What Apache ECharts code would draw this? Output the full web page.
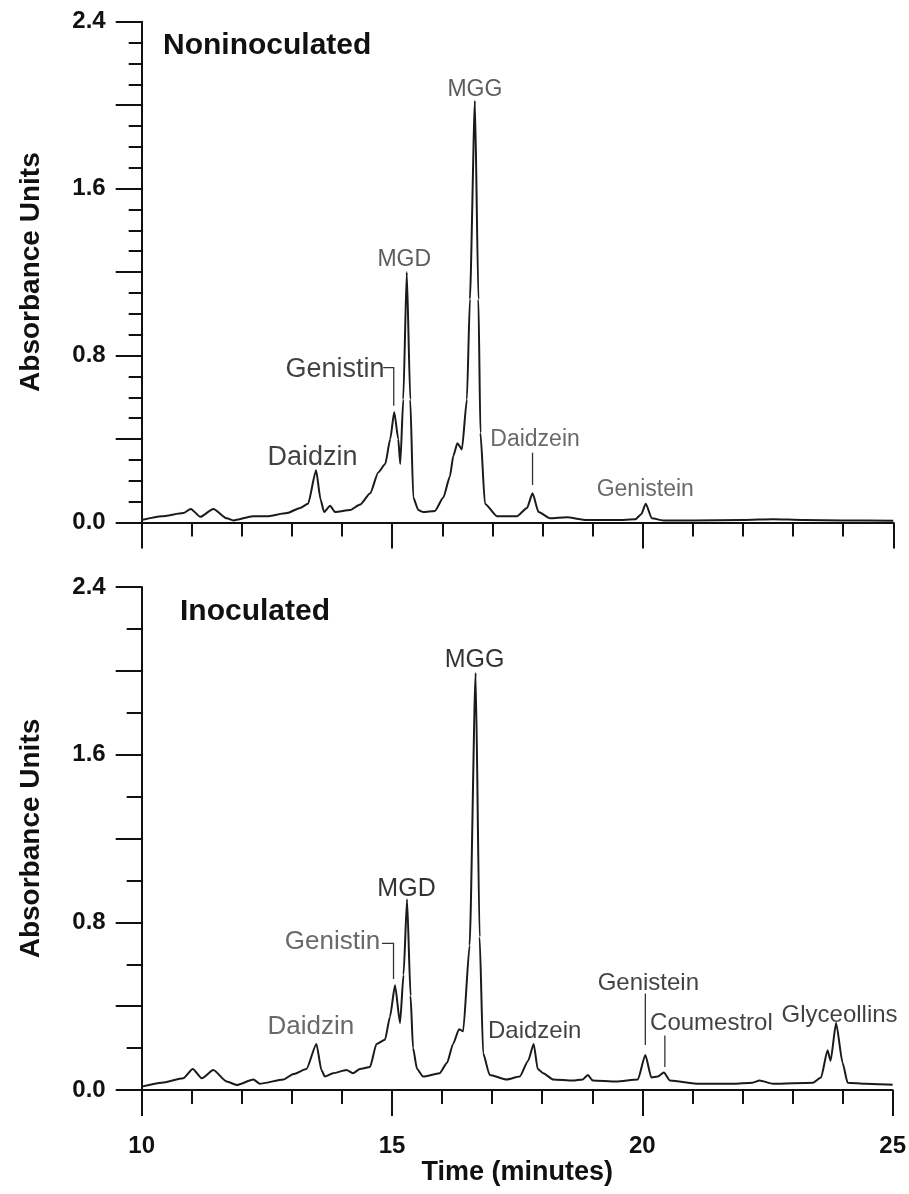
<!DOCTYPE html>
<html>
<head>
<meta charset="utf-8">
<script src="https://cdn.jsdelivr.net/npm/echarts@6/dist/echarts.min.js"></script>
<style>
  html, body { margin: 0; padding: 0; background: #fff; }
  #main { width: 909px; height: 1194px; }
</style>
</head>
<body>
<div id="main"></div>
<script>
// chromatogram values (time in minutes, absorbance units)
var nonTime = [10.0, 10.4, 10.83, 10.98, 11.17, 11.43, 11.7, 11.83, 12.22, 12.49, 12.9, 13.16, 13.32, 13.48, 13.57, 13.64, 13.76, 13.86, 14.16, 14.36, 14.56, 14.72, 14.86, 14.96, 15.04, 15.12, 15.16, 15.22, 15.29, 15.36, 15.42, 15.52, 15.62, 15.85, 16.02, 16.15, 16.22, 16.3, 16.39, 16.49, 16.55, 16.65, 16.72, 16.76, 16.85, 17.09, 17.49, 17.69, 17.8, 17.92, 18.15, 18.48, 18.88, 19.5, 19.85, 19.97, 20.06, 20.18, 20.41, 21.0, 22.0, 22.6, 23.2, 24.0, 25.0];
var nonAbs  = [0.012, 0.03, 0.045, 0.065, 0.027, 0.065, 0.02, 0.01, 0.03, 0.03, 0.045, 0.07, 0.09, 0.25, 0.11, 0.05, 0.08, 0.05, 0.06, 0.086, 0.14, 0.24, 0.28, 0.40, 0.53, 0.40, 0.28, 0.59, 1.20, 0.59, 0.12, 0.06, 0.05, 0.055, 0.12, 0.22, 0.32, 0.38, 0.35, 0.59, 1.07, 2.02, 1.07, 0.43, 0.09, 0.03, 0.03, 0.07, 0.14, 0.05, 0.02, 0.025, 0.012, 0.012, 0.015, 0.04, 0.09, 0.02, 0.01, 0.01, 0.012, 0.016, 0.012, 0.01, 0.008];

var inoTime = [10.0, 10.4, 10.83, 11.02, 11.2, 11.43, 11.7, 11.9, 12.23, 12.36, 12.83, 13.03, 13.29, 13.49, 13.59, 13.66, 13.82, 14.09, 14.22, 14.36, 14.56, 14.69, 14.86, 14.96, 15.06, 15.16, 15.23, 15.3, 15.37, 15.42, 15.5, 15.62, 15.95, 16.1, 16.22, 16.34, 16.42, 16.55, 16.67, 16.75, 16.82, 16.95, 17.29, 17.55, 17.72, 17.83, 17.91, 18.02, 18.22, 18.61, 18.81, 18.91, 19.01, 19.48, 19.91, 20.06, 20.18, 20.31, 20.43, 20.55, 21.14, 21.81, 22.2, 22.34, 22.61, 23.41, 23.57, 23.7, 23.76, 23.87, 24.0, 24.1, 24.47, 25.0];
var inoAbs  = [0.016, 0.035, 0.056, 0.10, 0.056, 0.095, 0.04, 0.024, 0.05, 0.03, 0.05, 0.076, 0.10, 0.22, 0.095, 0.064, 0.08, 0.095, 0.08, 0.10, 0.11, 0.22, 0.24, 0.35, 0.50, 0.32, 0.55, 0.91, 0.45, 0.20, 0.10, 0.064, 0.08, 0.13, 0.22, 0.29, 0.28, 0.69, 1.99, 0.73, 0.175, 0.072, 0.05, 0.064, 0.14, 0.22, 0.10, 0.08, 0.05, 0.045, 0.05, 0.072, 0.045, 0.04, 0.05, 0.167, 0.06, 0.064, 0.083, 0.045, 0.03, 0.03, 0.035, 0.045, 0.03, 0.035, 0.06, 0.19, 0.14, 0.32, 0.13, 0.035, 0.03, 0.025];

// peak names and where they sit (data coordinates)
var nonPeaks = [['MGG', 16.65, 2.076], ['MGD', 15.24, 1.26], ['Genistin', 13.86, 0.732], ['Daidzin', 13.41, 0.31], ['Daidzein', 17.85, 0.396], ['Genistein', 20.05, 0.156]];
var inoPeaks = [['MGG', 16.65, 2.05], ['MGD', 15.29, 0.959], ['Genistin', 13.81, 0.708], ['Daidzin', 13.38, 0.302], ['Daidzein', 17.85, 0.278], ['Genistein', 20.12, 0.509], ['Coumestrol', 21.38, 0.318], ['Glyceollins', 23.94, 0.358]];
var nonLeaders = [[[14.82, 0.742], [15.03, 0.742], [15.03, 0.56]], [[17.8, 0.334], [17.8, 0.18]]];
var inoLeaders = [[[14.8, 0.70], [15.03, 0.70], [15.03, 0.53]], [[20.06, 0.46], [20.06, 0.215]], [[20.45, 0.26], [20.45, 0.11]]];

var yTicks = [0, 0.8, 1.6, 2.4];

var myChart = echarts.init(document.getElementById('main'));

function pairs(xs, ys) {
    return xs.map(function (x, i) { return [x, ys[i]]; });
}

// label looks per panel
var nonStyle = {
    MGG: { fontSize: 23, color: '#333' },
    MGD: { fontSize: 23, color: '#333' },
    Genistin: { fontSize: 27, color: '#111' },
    Daidzin: { fontSize: 27, color: '#111' },
    Daidzein: { fontSize: 23, color: '#444' },
    Genistein: { fontSize: 23, color: '#444' }
};
var inoStyle = {
    MGG: { fontSize: 25, color: '#000' },
    MGD: { fontSize: 25, color: '#000' },
    Genistin: { fontSize: 26, color: '#444' },
    Daidzin: { fontSize: 26, color: '#444' },
    Daidzein: { fontSize: 24, color: '#111' },
    Genistein: { fontSize: 24, color: '#111' },
    Coumestrol: { fontSize: 24, color: '#111' },
    Glyceollins: { fontSize: 24, color: '#111' }
};

function peakLabels(list, styles) {
    return list.map(function (p) {
        var s = styles[p[0]];
        return {
            name: p[0],
            value: [p[1], p[2]],
            label: { fontSize: s.fontSize, color: s.color }
        };
    });
}

var font = '"Liberation Sans", Arial, sans-serif';

function xAxisOf(idx, showLabels) {
    return {
        gridIndex: idx,
        type: 'value',
        min: 10,
        max: 25,
        interval: 5,
        name: showLabels ? 'Time (minutes)' : '',
        nameLocation: 'middle',
        nameGap: 67,
        nameTextStyle: { fontFamily: font, fontWeight: 'bold', fontSize: 27, color: '#111' },
        axisLine: { onZero: false, lineStyle: { color: '#111', width: 2 } },
        axisTick: { show: true, length: 26, lineStyle: { color: '#111', width: 2 } },
        minorTick: { show: true, splitNumber: 5, length: 14, lineStyle: { color: '#111', width: 2 } },
        axisLabel: { show: showLabels, margin: 44, fontFamily: font, fontWeight: 'bold', fontSize: 24, color: '#111' },
        splitLine: { show: false }
    };
}

function yAxisOf(idx, minorSplit, minorLen) {
    return {
        gridIndex: idx,
        type: 'value',
        min: 0,
        max: 2.4,
        interval: 0.4,
        name: 'Absorbance Units',
        nameLocation: 'middle',
        nameGap: 96,
        nameTextStyle: { fontFamily: font, fontWeight: 'bold', fontSize: 28, color: '#111' },
        axisLine: { show: true, lineStyle: { color: '#111', width: 2 } },
        axisTick: { show: true, length: 26, lineStyle: { color: '#111', width: 2 } },
        minorTick: { show: true, splitNumber: minorSplit, length: minorLen, lineStyle: { color: '#111', width: 2 } },
        axisLabel: {
            margin: 36,
            fontFamily: font,
            fontWeight: 'bold',
            fontSize: 24,
            color: '#111',
            formatter: function (v) {
                for (var i = 0; i < yTicks.length; i++) {
                    if (Math.abs(yTicks[i] - v) < 1e-6) return v.toFixed(1);
                }
                return '';
            }
        },
        splitLine: { show: false }
    };
}

function traceSeries(idx, data) {
    return {
        type: 'line',
        xAxisIndex: idx,
        yAxisIndex: idx,
        data: data,
        showSymbol: false,
        smooth: 0.2,
        smoothMonotone: 'x',
        lineStyle: { color: '#1a1a1a', width: 2 },
        silent: true,
        z: 3
    };
}

function labelSeries(idx, data) {
    return {
        type: 'scatter',
        xAxisIndex: idx,
        yAxisIndex: idx,
        symbolSize: 0,
        data: data,
        silent: true,
        label: {
            show: true,
            position: 'inside',
            formatter: '{b}',
            fontFamily: font
        },
        z: 5
    };
}

function leaderSeries(idx, list) {
    return {
        type: 'lines',
        coordinateSystem: 'cartesian2d',
        xAxisIndex: idx,
        yAxisIndex: idx,
        polyline: true,
        silent: true,
        data: list.map(function (c) { return { coords: c }; }),
        lineStyle: { color: '#333', width: 1.3, opacity: 1 },
        z: 4
    };
}

var option = {
    backgroundColor: '#fff',
    animation: false,
    title: [
        { text: 'Noninoculated', left: 158, top: 26, textStyle: { fontFamily: font, fontWeight: 'bold', fontSize: 30, color: '#111' } },
        { text: 'Inoculated', left: 175, top: 592, textStyle: { fontFamily: font, fontWeight: 'bold', fontSize: 30, color: '#111' } }
    ],
    grid: [
        { left: 141.7, right: 15.7, top: 21.7, height: 500.8 },
        { left: 141.7, right: 15.7, top: 587, height: 503 }
    ],
    xAxis: [xAxisOf(0, false), xAxisOf(1, true)],
    yAxis: [yAxisOf(0, 4, 13), yAxisOf(1, 2, 15)],
    series: [
        traceSeries(0, pairs(nonTime, nonAbs)),
        traceSeries(1, pairs(inoTime, inoAbs)),
        labelSeries(0, peakLabels(nonPeaks, nonStyle)),
        labelSeries(1, peakLabels(inoPeaks, inoStyle)),
        leaderSeries(0, nonLeaders),
        leaderSeries(1, inoLeaders)
    ]
};

myChart.setOption(option);
</script>
</body>
</html>
